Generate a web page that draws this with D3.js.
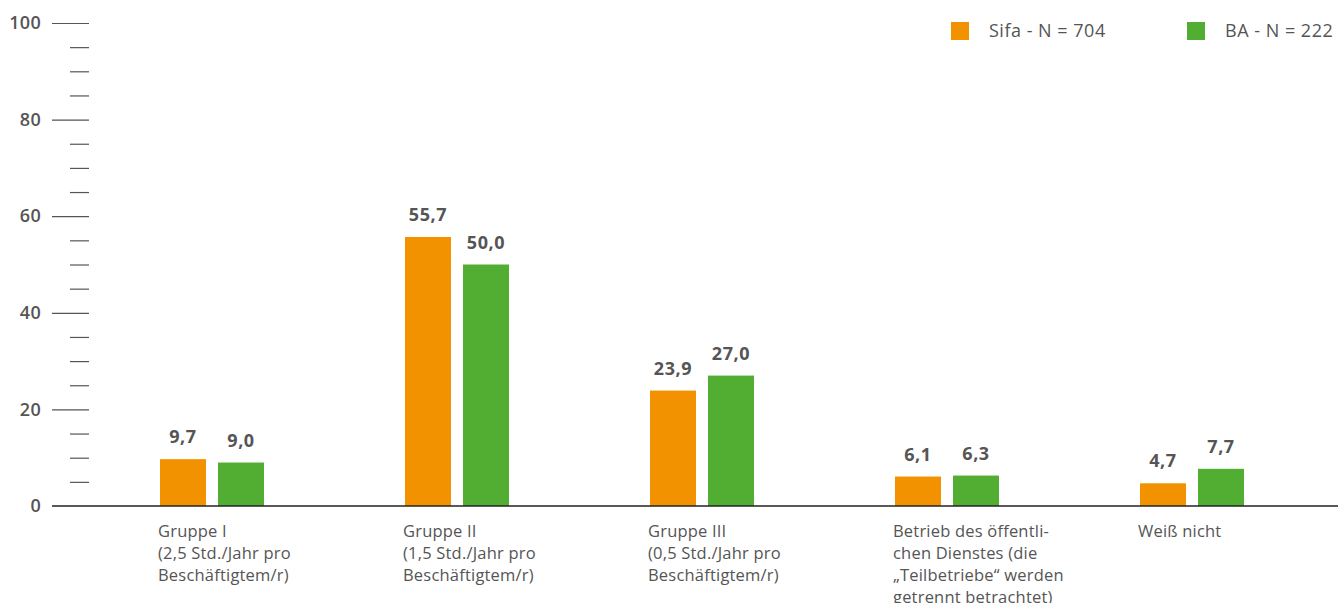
<!DOCTYPE html>
<html>
<head>
<meta charset="utf-8">
<script src="https://cdn.jsdelivr.net/npm/d3@7"></script>
<style>
  html, body { margin: 0; padding: 0; background: #fff; }
  svg { display: block; font-family: "Open Sans", "Noto Sans", sans-serif; }
</style>
</head>
<body>
<svg id="chart" width="1338" height="603"></svg>
<script>
// Categories (each label split into its printed lines)
const categories = ["g1", "g2", "g3", "oeff", "wn"];
const categoryLines = [
  ["Gruppe I", "(2,5 Std./Jahr pro", "Beschäftigtem/r)"],
  ["Gruppe II", "(1,5 Std./Jahr pro", "Beschäftigtem/r)"],
  ["Gruppe III", "(0,5 Std./Jahr pro", "Beschäftigtem/r)"],
  ["Betrieb des öffentli-", "chen Dienstes (die", "„Teilbetriebe“ werden", "getrennt betrachtet)"],
  ["Weiß nicht"]
];
const seriesNames = ["Sifa - N = 704", "BA - N = 222"];
const sifaValues = [9.7, 55.7, 23.9, 6.1, 4.7];
const baValues = [9.0, 50.0, 27.0, 6.3, 7.7];
const majorTicks = [0, 20, 40, 60, 80, 100];
const minorTicks = [5, 10, 15, 25, 30, 35, 45, 50, 55, 65, 70, 75, 85, 90, 95];
const colors = ["#F39200", "#52AE32"];

const svg = d3.select("#chart");
const textColor = "#555";

const y = d3.scaleLinear().domain([0, 100]).range([506, 23]);
const x0 = d3.scaleBand().domain(categories).range([89.5, 1314.5]).padding(0);
const groupWidth = 104;
const x1 = d3.scaleBand().domain([0, 1]).range([0, groupWidth]).paddingInner(0.2069).paddingOuter(0);
const groupLeft = c => x0(c) + (x0.bandwidth() - groupWidth) / 2;

// Y axis: major ticks with labels
const axisX = 89;
const major = svg.append("g")
  .attr("transform", `translate(${axisX},0)`)
  .call(d3.axisLeft(y).tickValues(majorTicks).tickSize(37).tickPadding(11).tickFormat(d3.format("d")));
major.select(".domain").remove();
major.selectAll(".tick line").attr("stroke", "#555").attr("stroke-width", 1.2);
major.selectAll(".tick text")
  .attr("fill", textColor)
  .attr("font-size", 18)
  .attr("font-weight", 600)
  .attr("letter-spacing", 0.3)
  .attr("font-family", "'Open Sans', sans-serif");
major.selectAll(".tick").filter(d => d === 0).select("line").remove();

// Y axis: minor ticks
const minor = svg.append("g")
  .attr("transform", `translate(${axisX},0)`)
  .call(d3.axisLeft(y).tickValues(minorTicks).tickSize(19).tickFormat(""));
minor.select(".domain").remove();
minor.selectAll(".tick line").attr("stroke", "#555").attr("stroke-width", 1.2);

// Bars
const rows = categories.map((c, i) => ({ c, vals: [sifaValues[i], baValues[i]] }));
const groups = svg.append("g").selectAll("g").data(rows).join("g")
  .attr("transform", d => `translate(${groupLeft(d.c)},0)`);

groups.selectAll("rect").data(d => d.vals.map((v, k) => ({ v, k }))).join("rect")
  .attr("x", d => x1(d.k))
  .attr("y", d => y(d.v))
  .attr("width", x1.bandwidth())
  .attr("height", d => y(0) - y(d.v))
  .attr("fill", d => colors[d.k]);

// Value labels
const fmt = v => d3.format(".1f")(v).replace(".", ",");
groups.selectAll("text.val").data(d => d.vals.map((v, k) => ({ v, k }))).join("text")
  .attr("class", "val")
  .attr("x", d => x1(d.k) + x1.bandwidth() / 2)
  .attr("y", d => y(d.v) - 16)
  .attr("text-anchor", "middle")
  .attr("fill", textColor)
  .attr("font-size", 18)
  .attr("font-weight", 700)
  .attr("letter-spacing", 0.6)
  .text(d => fmt(d.v));

// Baseline
svg.append("line")
  .attr("x1", 52).attr("x2", 1338)
  .attr("y1", y(0)).attr("y2", y(0))
  .attr("stroke", "#222").attr("stroke-width", 1.5);

// Category labels
const catText = svg.append("g").selectAll("text").data(categories).join("text")
  .attr("x", c => groupLeft(c) - 2)
  .attr("y", 537)
  .attr("fill", textColor)
  .attr("font-size", 16.5)
  .attr("letter-spacing", 0.2);
catText.each(function(c, i) {
  d3.select(this).selectAll("tspan").data(categoryLines[i]).join("tspan")
    .attr("x", groupLeft(c) - 2)
    .attr("dy", (d, j) => j === 0 ? 0 : 22)
    .text(d => d);
});

// Legend
const legendX = [951, 1187];
const legend = svg.append("g").selectAll("g").data(seriesNames).join("g")
  .attr("transform", (d, i) => `translate(${legendX[i]},22)`);
legend.append("rect").attr("width", 18).attr("height", 18).attr("fill", (d, i) => colors[i]);
legend.append("text")
  .attr("x", 38).attr("y", 15)
  .attr("fill", textColor)
  .attr("font-size", 18)
  .attr("letter-spacing", 0.5)
  .text(d => d);
</script>
</body>
</html>
